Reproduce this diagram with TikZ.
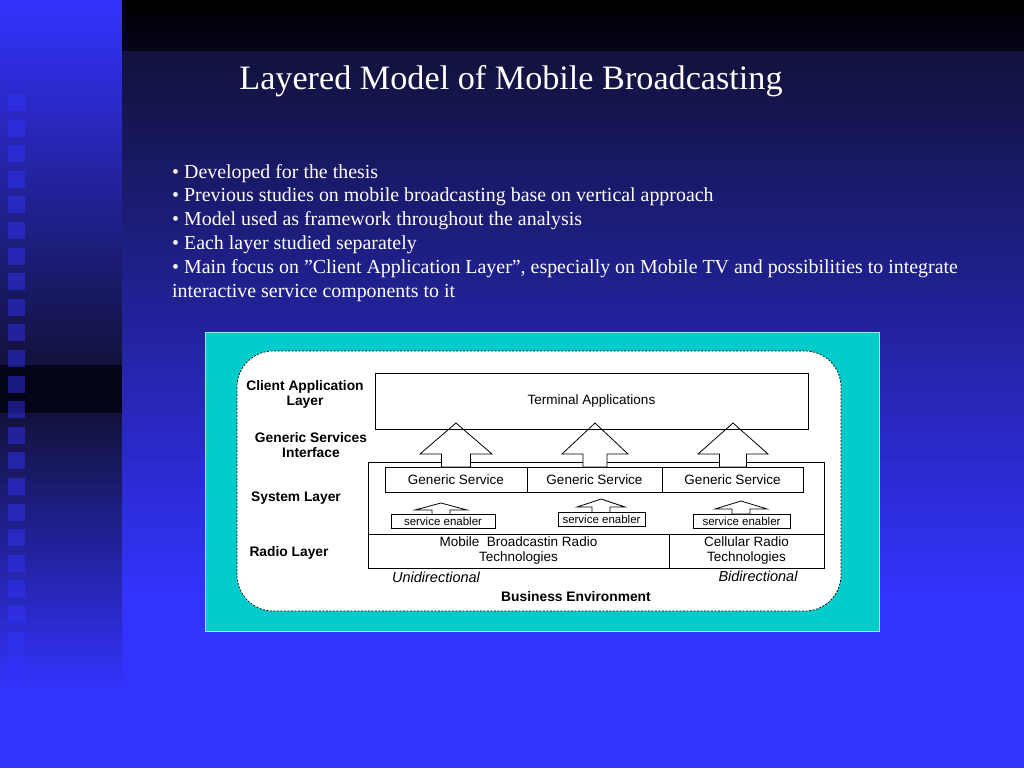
\documentclass[tikz,border=0pt]{standalone}
\usepackage{fontspec}
\setmainfont{Liberation Serif}
\setsansfont{Liberation Sans}
\usetikzlibrary{positioning}

\definecolor{slideblue}{RGB}{51,51,255}
\definecolor{slidemid}{RGB}{38,38,190}
\definecolor{slidenavy}{RGB}{18,18,60}
\definecolor{slidedark}{RGB}{4,4,24}
\definecolor{panelcyan}{RGB}{0,204,204}

\tikzset{
  slidetitle/.style={text=white, font=\fontsize{34.2}{36}\selectfont, inner sep=0pt},
  bulletline/.style={text=white, font=\fontsize{19.9}{24}\selectfont, inner sep=0pt, anchor=base west},
  layerlabel/.style={font=\sffamily\bfseries\fontsize{13.8}{15}\selectfont, align=center, inner sep=0pt},
  boxtext/.style={font=\sffamily\fontsize{13.5}{15}\selectfont, align=center, inner sep=0pt},
  layerbox/.style={draw=black, line width=0.8pt, inner sep=0pt, align=center,
    font=\sffamily\fontsize{13.5}{15}\selectfont},
  enablerbox/.style={layerbox, font=\sffamily\fontsize{11.5}{13}\selectfont},
  blockarrow/.style={draw=black, fill=white, line width=0.8pt, line join=miter},
}

% upward block arrow: x, tip y, head base y, foot y, head half width, shaft half width
\newcommand{\uparrowblock}[6]{%
  \filldraw[blockarrow] (#1,#2) -- (#1+#5,#3) -- (#1+#6,#3) -- (#1+#6,#4)
    -- (#1-#6,#4) -- (#1-#6,#3) -- (#1-#5,#3) -- cycle;}

\begin{document}
\begin{tikzpicture}[x=1pt,y=-1pt]
  \useasboundingbox (0,0) rectangle (1024,768);
  % Background
  \fill[slideblue] (0,0) rectangle (1024,768);
  \shade[top color=slideblue, middle color=slidemid, bottom color=slidenavy] (0,0) rectangle (122,365);
  \fill[slidedark] (0,365) rectangle (122,413);
  \shade[top color=slidenavy, bottom color=slideblue] (0,413) rectangle (122,690);
  \foreach \i in {0,...,22}
    \fill[slideblue, opacity=0.45] (8,94+25.6*\i) rectangle ++(17,17);
  \shade[top color=black, bottom color=slidedark] (122,0) rectangle (1024,52);
  \shade[top color=slidenavy, bottom color=slideblue] (122,52) rectangle (1024,600);

  % Title and bullets
  \node[slidetitle, anchor=base] (title) at (511,89) {Layered Model of Mobile Broadcasting};
  \foreach \txt [count=\i] in {{• Developed for the thesis},
      {• Previous studies on mobile broadcasting base on vertical approach},
      {• Model used as framework throughout the analysis},
      {• Each layer studied separately},
      {• Main focus on ”Client Application Layer”, especially on Mobile TV and possibilities to integrate},
      {interactive service components to it}}
    \node[bulletline] (b\i) at (172,{178+23.8*(\i-1)}) {\txt};

  % Panel
  \draw[panelcyan!40!white, fill=panelcyan, line width=1pt] (205,332) rectangle (879,631);
  \draw[dash pattern=on 2pt off 1.5pt, fill=white, rounded corners=36pt, line width=0.7pt]
    (237,351) rectangle (841,611);

  % Layer labels
  \node[layerlabel] (clientlbl) at (305,394) {Client Application\\Layer};
  \node[layerlabel] (gsilbl) at (311,445) {Generic Services\\Interface};
  \node[layerlabel] (systemlbl) at (296,498) {System Layer};
  \node[layerlabel] (radiolbl) at (289,553) {Radio Layer};

  % System layer
  \node[layerbox, minimum width=456, minimum height=106] (system) at (596,515) {};
  \node[layerbox, minimum width=142, minimum height=25] (gs1) at (456,479.5) {Generic Service};
  \node[layerbox, minimum width=135, minimum height=25] (gs2) at (594.5,479.5) {Generic Service};
  \node[layerbox, minimum width=141, minimum height=25] (gs3) at (732.5,479.5) {Generic Service};
  \uparrowblock{456}{423}{454}{467}{36}{14.5}
  \uparrowblock{595}{423}{454}{467}{33}{12}
  \uparrowblock{733}{423}{454}{467}{35}{13.5}

  % Client application layer
  \node[layerbox, minimum width=433, minimum height=56] (terminal) at (591.5,401) {Terminal Applications};

  % Service enablers
  \node[enablerbox, minimum width=104, minimum height=14] (se1) at (443,521.5) {service enabler};
  \node[enablerbox, minimum width=87, minimum height=14] (se2) at (601.5,519.5) {service enabler};
  \node[enablerbox, minimum width=97, minimum height=14] (se3) at (741.5,521) {service enabler};
  \uparrowblock{441}{503}{510}{514.5}{26}{9}
  \uparrowblock{601}{499}{507}{512.5}{24}{9}
  \uparrowblock{741}{501}{509}{514}{26}{9}

  % Radio layer
  \node[layerbox, minimum width=301, minimum height=34] (mobilert) at (518.5,551)
    {Mobile\ \ Broadcastin Radio\\Technologies};
  \node[layerbox, minimum width=155, minimum height=34] (cellrt) at (746.5,551)
    {Cellular Radio\\Technologies};
  \node[boxtext, font=\sffamily\itshape\fontsize{14.5}{16}\selectfont] (uni) at (436,577) {Unidirectional};
  \node[boxtext, font=\sffamily\itshape\fontsize{14.5}{16}\selectfont] (bi) at (758,576) {Bidirectional};
  \node[layerlabel] (business) at (576,597) {Business Environment};
\end{tikzpicture}
\end{document}
